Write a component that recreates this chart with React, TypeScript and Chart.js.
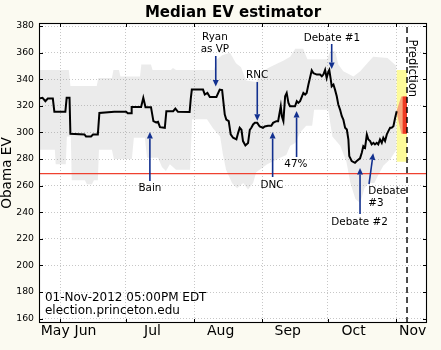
import React, { useEffect, useRef } from 'react';
import { Chart, registerables } from 'chart.js';

Chart.register(...registerables);

const FONT = "'DejaVu Sans', 'Liberation Sans', sans-serif";
const CREAM = '#fbfaf1';
const GRID = 'rgba(0,0,0,0.22)';
const ARROW = '#12308f';

// x values are days since 1-Jun-2012
const X_MIN = -9.6;
const X_MAX = 167.1;
const Y_MIN = 156.7;
const Y_MAX = 382.3;

const monthStartDays = [0, 30, 61, 92, 122, 153];
const monthLabelDays = [-2.2, 11.6, 42.1, 73.1, 103.7, 133.7, 160.6];
const monthLabels = ['May', 'Jun', 'Jul', 'Aug', 'Sep', 'Oct', 'Nov'];
const yTickValues = [160, 180, 200, 220, 240, 260, 280, 300, 320, 340, 360, 380];

const medianDays = [
  -9.6, -8, -6.7, -5.6, -3.3, -2.6, 2.4, 3.0, 4.3, 4.7,
  11.1, 11.8, 14.1, 15, 17.2, 17.9, 24.7, 30.1, 30.8, 32.3,
  32.6, 36.9, 37.9, 38.9, 41.4, 42.5, 43.7, 44.6, 45.5, 47.7,
  48.4, 51.5, 52.5, 53.7, 59.0, 59.5, 60.0, 65.1, 65.9, 67.1,
  68.2, 71.2, 72.7, 73.8, 75.0, 75.7, 76.8, 77.7, 78.8, 80.3,
  81.1, 81.8, 82.6, 83.3, 84.4, 85.6, 86.4, 87.1, 87.9, 88.7,
  89.8, 90.9, 92.4, 93.2, 94.7, 96.2, 97.0, 98.5, 99.3, 100.5,
  101.0, 101.7, 102.5, 103.2, 104.0, 104.7, 107.0, 107.8, 108.5, 109.3,
  110.8, 111.6, 112.3, 113.1, 113.8, 114.6, 115.4, 116.9, 118.4, 119.2,
  119.9, 120.7, 121.4, 122.2, 122.6, 123.3, 123.7, 124.5, 125.2, 126.0,
  126.7, 127.5, 128.3, 129.0, 129.8, 130.6, 131.3, 131.7, 132.8, 134.3,
  135.1, 136.6, 137.4, 138.1, 138.9, 139.7, 140.4, 141.2, 141.9, 142.7,
  143.4, 144.2, 144.9, 145.7, 146.5, 147.2, 148.0, 148.8, 149.5, 150.3,
  151.0, 151.8, 152.6, 153.3,
];
const medianEV = [
  325.5, 326, 323.5, 325.5, 325.5, 315.5, 315.5, 326, 326, 299,
  298.5, 297, 297, 298.5, 298.5, 314.7, 315.5, 315.5, 314.5, 314.5,
  319.2, 319.2, 326, 319, 319, 308.5, 307.5, 308, 304, 303.5,
  316, 316, 318, 315.5, 315.3, 325, 332.2, 332.2, 328.5, 329.7,
  326.7, 326.7, 332.2, 331.8, 313.5, 309.7, 308.5, 298.5, 296, 294.8,
  299.7, 303.5, 302, 293.5, 290.2, 292, 302, 303.5, 306, 307.2,
  307.2, 304.5, 303.5, 304.5, 305, 305, 307.2, 308.5, 308.5, 319.7,
  312.2, 308.5, 327.2, 329.7, 322.2, 319.7, 319.7, 323.5, 322.2, 323.5,
  329.7, 328.5, 329.7, 336, 341, 346.7, 344.5, 343.5, 343.5, 342.2,
  343.5, 347, 341, 345.7, 347, 339.5, 334.7, 336, 332.2, 327.2,
  321, 317.2, 312.2, 309.7, 303.5, 302.2, 294.7, 282.2, 278.5, 277.2,
  278.5, 280.5, 284.7, 289.7, 288.5, 298.5, 294.7, 293.5, 291, 292.2,
  291, 292.2, 291, 294.7, 292.2, 296, 293.5, 298.5, 301, 303.5,
  303.5, 304.7, 311, 316,
];

const bandUpperDays = [
  -9.6, 4.0, 4.7, 16.7, 17.4, 23.6, 24.3, 26.8, 27.5, 36.4,
  37.0, 41.4, 42.1, 50.5, 51.4, 52.8, 70.1, 71.5, 73.8, 77.4,
  80.1, 82.4, 84.7, 89.3, 92.0, 96.6, 101.6, 104.8, 107.1, 110.7,
  112.6, 121.7, 123.0, 125.3, 126.7, 129.0, 133.6, 136.7, 139.9, 142.6,
  149.1, 151.8, 153.2,
];
const bandUpperEV = [
  347, 347, 335, 335, 341, 341, 347, 347, 342, 342,
  351, 351, 347, 347, 348.5, 347, 347, 355, 358, 360,
  352, 349, 339, 338, 346, 350, 354, 357, 363, 363,
  355, 355, 361, 361, 351, 346, 342, 346, 352, 357,
  356, 352, 350,
];
const bandLowerDays = [
  -9.6, -2.4, -2.0, 2.6, 3.1, 4.9, 5.3, 11.3, 12.2, 14.5,
  15.4, 17.2, 17.7, 23.6, 24.5, 32.7, 33.6, 38.6, 39.6, 44.6,
  46.4, 48.2, 50.0, 52.8, 59.2, 60.1, 66.9, 69.7, 72.9, 74.2,
  75.6, 78.3, 80.6, 83.4, 85.6, 87.9, 89.3, 94.3, 100.2, 103.0,
  104.8, 107.1, 109.3, 112.1, 114.8, 115.7, 122.1, 124.0, 127.6, 130.4,
  132.2, 134.5, 136.7, 138.6, 140.4, 143.1, 144.9, 147.2, 150.4, 153.2,
];
const bandLowerEV = [
  287, 287, 276, 276, 297, 297, 264, 264, 261, 261,
  264, 264, 287, 287, 280, 280, 296, 296, 281, 281,
  274, 271, 276, 272, 272, 310, 310, 303, 297, 283,
  272, 262, 258, 262, 257, 262, 270, 276, 281, 283,
  290, 292, 300, 305, 305, 317, 317, 297, 290, 278,
  262, 250, 247, 258, 262, 262, 268, 275, 280, 287,
];

const electionDay = 158;
const winThreshold = 269;

const yellowDays = [153.2, 158];
const yellowHigh = [347, 347];
const yellowLow = [278, 278];
const salmonDays = [153.2, 155.4, 158];
const salmonHigh = [316, 327, 327];
const salmonLow = [316, 299, 299];
const redDays = [155.9, 158];
const redHigh = [327, 327];
const redLow = [299, 299];

type Note = {
  lines: string[];
  day: number;
  ev: number;
  align: CanvasTextAlign;
  tail: [number, number];
  head: [number, number];
};
const notes: Note[] = [
  { lines: ['Ryan', 'as VP'], day: 70.5, ev: 371.8, align: 'center', tail: [70.9, 357.5], head: [70.9, 334.5] },
  { lines: ['RNC'], day: 89.7, ev: 343.2, align: 'center', tail: [89.8, 337.9], head: [89.8, 308.8] },
  { lines: ['Debate #1'], day: 123.8, ev: 371.0, align: 'center', tail: [123.7, 366.5], head: [123.7, 347.7] },
  { lines: ['Bain'], day: 40.9, ev: 258.2, align: 'center', tail: [40.9, 263.5], head: [40.9, 300.3] },
  { lines: ['DNC'], day: 96.5, ev: 260.5, align: 'center', tail: [96.8, 266.5], head: [96.8, 300.3] },
  { lines: ['47%'], day: 107.4, ev: 276.3, align: 'center', tail: [107.7, 281.5], head: [107.7, 316.1] },
  { lines: ['Debate #2'], day: 136.4, ev: 232.7, align: 'center', tail: [136.6, 238.7], head: [136.6, 273.3] },
  { lines: ['Debate', '#3'], day: 140.4, ev: 256.0, align: 'left', tail: [140.7, 261.2], head: [142.6, 284.3] },
];
const stampLines = ['01-Nov-2012 05:00PM EDT', 'election.princeton.edu'];
const stampDay = -6.9;
const stampEV = [175.8, 165.8];
const predictionLabel = 'Prediction';
const predictionLabelDay = 160.3;
const predictionLabelEV = 348.2;

const pts = (xs: number[], ys: number[]) => xs.map((x, i) => ({ x, y: ys[i] }));

function drawArrow(ctx: CanvasRenderingContext2D, x1: number, y1: number, x2: number, y2: number) {
  const ang = Math.atan2(y2 - y1, x2 - x1);
  const hl = 6.5;
  const hw = 3;
  const bx = x2 - hl * Math.cos(ang);
  const by = y2 - hl * Math.sin(ang);
  ctx.beginPath();
  ctx.moveTo(x1, y1);
  ctx.lineTo(bx, by);
  ctx.lineWidth = 1.6;
  ctx.strokeStyle = ARROW;
  ctx.stroke();
  ctx.beginPath();
  ctx.moveTo(x2, y2);
  ctx.lineTo(bx + hw * Math.sin(ang), by - hw * Math.cos(ang));
  ctx.lineTo(bx - hw * Math.sin(ang), by + hw * Math.cos(ang));
  ctx.closePath();
  ctx.fillStyle = ARROW;
  ctx.fill();
}

const decorPlugin = {
  id: 'decor',
  beforeDraw(chart: any) {
    const { ctx, chartArea: a } = chart;
    ctx.save();
    ctx.fillStyle = CREAM;
    ctx.fillRect(0, 0, chart.width, chart.height);
    ctx.fillStyle = '#ffffff';
    ctx.fillRect(a.left, a.top, a.right - a.left, a.bottom - a.top);
    ctx.restore();
  },
  afterDatasetsDraw(chart: any) {
    const { ctx, chartArea: a, scales } = chart;
    const xs = scales.x;
    const ys = scales.y;
    ctx.save();
    ctx.font = `10.4px ${FONT}`;
    ctx.textBaseline = 'middle';
    ctx.fillStyle = '#000';
    for (const n of notes) {
      ctx.textAlign = n.align;
      const px = xs.getPixelForValue(n.day);
      const py = ys.getPixelForValue(n.ev);
      n.lines.forEach((l, i) => ctx.fillText(l, px, py + i * 12.5));
      drawArrow(
        ctx,
        xs.getPixelForValue(n.tail[0]), ys.getPixelForValue(n.tail[1]),
        xs.getPixelForValue(n.head[0]), ys.getPixelForValue(n.head[1]),
      );
      ctx.fillStyle = '#000';
    }
    ctx.font = `12px ${FONT}`;
    ctx.textAlign = 'left';
    stampLines.forEach((l, i) => ctx.fillText(l, xs.getPixelForValue(stampDay), ys.getPixelForValue(stampEV[i])));
    ctx.save();
    ctx.translate(xs.getPixelForValue(predictionLabelDay), ys.getPixelForValue(predictionLabelEV));
    ctx.rotate(Math.PI / 2);
    ctx.font = `11.6px ${FONT}`;
    ctx.textAlign = 'center';
    ctx.fillText(predictionLabel, 0, 0);
    ctx.restore();
    ctx.strokeStyle = '#000';
    ctx.lineWidth = 1;
    ctx.beginPath();
    for (const v of yTickValues) {
      const py = Math.round(ys.getPixelForValue(v)) + 0.5;
      ctx.moveTo(a.left, py); ctx.lineTo(a.left + 4, py);
      ctx.moveTo(a.right - 4, py); ctx.lineTo(a.right, py);
    }
    for (const v of monthStartDays) {
      const px = Math.round(xs.getPixelForValue(v)) + 0.5;
      ctx.moveTo(px, a.bottom); ctx.lineTo(px, a.bottom - 4);
      ctx.moveTo(px, a.top); ctx.lineTo(px, a.top + 4);
    }
    ctx.stroke();
    ctx.lineWidth = 1.1;
    ctx.strokeRect(a.left + 0.5, a.top + 0.5, a.right - a.left - 1, a.bottom - a.top - 1);
    ctx.restore();
  },
};

export default function App() {
  const ref = useRef<HTMLCanvasElement>(null);
  useEffect(() => {
    document.body.style.margin = '0';
    document.body.style.background = CREAM;
    const canvas = ref.current!;
    const noPoint = { pointRadius: 0, pointHoverRadius: 0, tension: 0 };
    const chart = new Chart(canvas, {
      type: 'line',
      data: {
        datasets: [
          { data: pts(bandUpperDays, bandUpperEV), borderWidth: 0, borderColor: 'rgba(0,0,0,0)', fill: false, order: 10, ...noPoint },
          { data: pts(bandLowerDays, bandLowerEV), borderWidth: 0, borderColor: 'rgba(0,0,0,0)', backgroundColor: 'rgba(150,150,150,0.19)', fill: '-1', order: 10, ...noPoint },
          { data: [{ x: X_MIN, y: winThreshold }, { x: X_MAX, y: winThreshold }], borderWidth: 1.1, borderColor: '#ef4130', fill: false, order: 9, ...noPoint },
          { data: pts(yellowDays, yellowHigh), borderWidth: 0, borderColor: 'rgba(0,0,0,0)', fill: false, order: 8, ...noPoint },
          { data: pts(yellowDays, yellowLow), borderWidth: 0, borderColor: 'rgba(0,0,0,0)', backgroundColor: '#fdfb9a', fill: '-1', order: 8, ...noPoint },
          { data: pts(salmonDays, salmonHigh), borderWidth: 0, borderColor: 'rgba(0,0,0,0)', fill: false, order: 7, ...noPoint },
          { data: pts(salmonDays, salmonLow), borderWidth: 0, borderColor: 'rgba(0,0,0,0)', backgroundColor: '#f6a57a', fill: '-1', order: 7, ...noPoint },
          { data: pts(redDays, redHigh), borderWidth: 0, borderColor: 'rgba(0,0,0,0)', fill: false, order: 6, ...noPoint },
          { data: pts(redDays, redLow), borderWidth: 0, borderColor: 'rgba(0,0,0,0)', backgroundColor: '#ee3a22', fill: '-1', order: 6, ...noPoint },
          { data: pts(medianDays, medianEV), borderWidth: 2, borderColor: '#000', fill: false, order: 2, ...noPoint },
          { data: [{ x: electionDay, y: Y_MIN }, { x: electionDay, y: Y_MAX }], borderWidth: 1.4, borderColor: '#000', borderDash: [6, 4], fill: false, order: 1, ...noPoint },
        ] as any,
      },
      options: {
        animation: false,
        responsive: false,
        devicePixelRatio: 1,
        parsing: false as any,
        events: [],
        layout: { padding: { left: 0, right: 14, top: 0, bottom: 0 } },
        plugins: {
          legend: { display: false },
          tooltip: { enabled: false },
          title: {
            display: true,
            text: 'Median EV estimator',
            fullSize: false,
            color: '#000',
            font: { family: FONT, size: 15, weight: 'bold', lineHeight: 1.2 },
            padding: { top: 4.5, bottom: 0.5 },
          },
        },
        scales: {
          x: {
            type: 'linear',
            min: X_MIN,
            max: X_MAX,
            afterFit: (s: any) => { s.height = 27; },
            afterBuildTicks: (s: any) => {
              s.ticks = [...monthStartDays, ...monthLabelDays].sort((p, q) => p - q).map((v) => ({ value: v }));
            },
            ticks: {
              autoSkip: false,
              maxRotation: 0,
              minRotation: 0,
              padding: 1,
              color: '#000',
              font: { family: FONT, size: 14, lineHeight: 1 },
              callback: (v: any) => {
                const i = monthLabelDays.indexOf(v);
                return i >= 0 ? monthLabels[i] : '';
              },
            },
            grid: {
              drawTicks: false,
              lineWidth: 1,
              color: (c: any) => (c.tick && monthStartDays.includes(c.tick.value) ? GRID : 'rgba(0,0,0,0)'),
            },
            border: { display: false, dash: [1, 2] },
          },
          y: {
            type: 'linear',
            min: Y_MIN,
            max: Y_MAX,
            afterFit: (s: any) => { s.width = 39; },
            afterBuildTicks: (s: any) => { s.ticks = yTickValues.map((v) => ({ value: v })); },
            ticks: {
              padding: 5,
              color: '#000',
              font: { family: FONT, size: 9.3 },
              callback: (v: any) => String(v),
            },
            grid: { drawTicks: false, lineWidth: 1, color: GRID },
            border: { display: false, dash: [1, 2] },
            title: {
              display: true,
              text: 'Obama EV',
              color: '#000',
              font: { family: FONT, size: 13.6, lineHeight: 1.1 },
              padding: 0,
            },
          },
        },
      } as any,
      plugins: [decorPlugin],
    });
    return () => chart.destroy();
  }, []);
  return (
    <div style={{ width: 441, height: 350, background: CREAM }}>
      <canvas ref={ref} width={441} height={350} style={{ display: 'block' }} />
    </div>
  );
}
